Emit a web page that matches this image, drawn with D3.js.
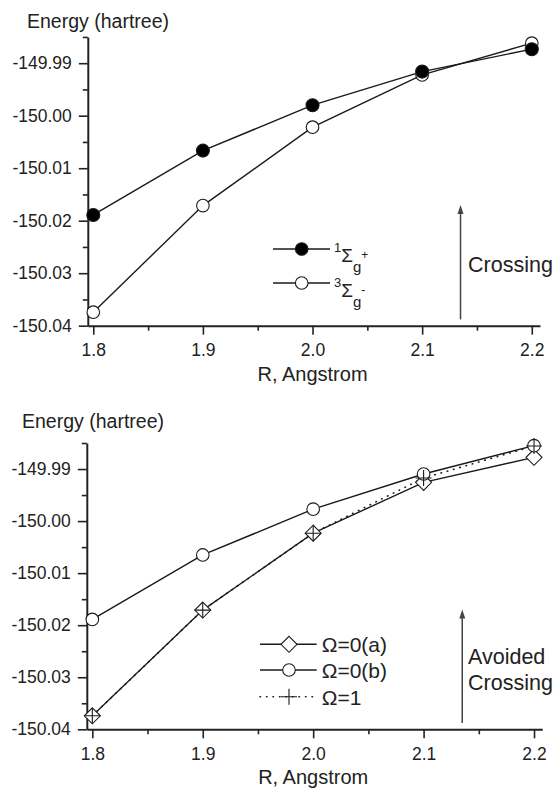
<!DOCTYPE html>
<html>
<head>
<meta charset="utf-8">
<script src="https://cdn.jsdelivr.net/npm/d3@7"></script>
<style>
  body { margin: 0; background: #fff; }
  svg { display: block; font-family: "Liberation Sans", Arial, sans-serif; }
</style>
</head>
<body>
<svg id="chart" width="557" height="790"></svg>
<script>
// data
var R = [1.8, 1.9, 2.0, 2.1, 2.2];
var singlet = [-150.0189, -150.00665, -149.9980, -149.9916, -149.98733];   // 1Σg+
var triplet = [-150.03743, -150.01712, -150.00219, -149.99223, -149.98619]; // 3Σg-
var omega0a = [-150.0374, -150.0171, -150.00233, -149.99256, -149.98775];
var omega0b = [-150.0189, -150.00651, -149.99771, -149.99096, -149.98551];
var omega1 = [-150.0374, -150.0171, -150.00233, -149.99173, -149.98557];

var xTicks = [1.8, 1.9, 2.0, 2.1, 2.2];
var xMinor = [1.85, 1.95, 2.05, 2.15];
var yTicks = [-150.04, -150.03, -150.02, -150.01, -150.00, -149.99];
var yMinor = [-150.035, -150.025, -150.015, -150.005, -149.995, -149.985];

var svg = d3.select("#chart");
var ink = "#1a1a1a";

function zip(vals) {
    return R.map(function (r, i) { return [r, vals[i]]; });
}

function panel(cfg) {
    var x = d3.scaleLinear().domain([1.795, 2.2075]).range([cfg.left, cfg.right]);
    var y = d3.scaleLinear().domain([-150.04, -149.985]).range([cfg.bottom, cfg.top]);
    var g = svg.append("g");

    // minor ticks first
    g.append("g").attr("transform", "translate(0," + cfg.bottom + ")")
        .call(d3.axisBottom(x).tickValues(xMinor).tickSize(5).tickFormat(""))
        .call(function (a) { a.select(".domain").remove(); });
    g.append("g").attr("transform", "translate(" + cfg.left + ",0)")
        .call(d3.axisLeft(y).tickValues(yMinor).tickSize(5).tickFormat(""))
        .call(function (a) { a.select(".domain").remove(); });

    g.append("g").attr("transform", "translate(0," + cfg.bottom + ")")
        .call(d3.axisBottom(x).tickValues(xTicks).tickSize(9).tickSizeOuter(0)
            .tickPadding(9).tickFormat(function (d) { return d.toFixed(1); }));
    g.append("g").attr("transform", "translate(" + cfg.left + ",0)")
        .call(d3.axisLeft(y).tickValues(yTicks).tickSize(9).tickSizeOuter(0)
            .tickPadding(7).tickFormat(function (d) { return d.toFixed(2); }));

    g.selectAll(".domain").attr("stroke", "#222").attr("stroke-width", 2);
    g.selectAll(".tick line").attr("stroke", "#222").attr("stroke-width", 1.6);
    g.selectAll(".tick text").attr("fill", "#222").style("font-size", "17.5px")
        .style("font-family", "'Liberation Sans', Arial, sans-serif");

    g.append("text").attr("x", cfg.yTitleX).attr("y", cfg.yTitleY)
        .attr("fill", "#222").style("font-size", "19.5px").text("Energy (hartree)");
    g.append("text").attr("x", x(2.0)).attr("y", cfg.bottom + 55)
        .attr("text-anchor", "middle")
        .attr("fill", "#222").style("font-size", "20px").text("R, Angstrom");

    // annotation arrow
    var ax = x(2.135);
    g.append("line").attr("x1", ax).attr("x2", ax)
        .attr("y1", y(-150.0388)).attr("y2", y(-150.017) + 6)
        .attr("stroke", "#444").attr("stroke-width", 1.5);
    g.append("path")
        .attr("d", "M" + ax + "," + y(-150.017) + " l-3,9 l6,0 z")
        .attr("fill", "#444");

    return { g: g, x: x, y: y };
}

var line = function (p) {
    return d3.line().x(function (d) { return p.x(d[0]); }).y(function (d) { return p.y(d[1]); });
};

function drawLine(p, vals, dash) {
    p.g.append("path").datum(zip(vals))
        .attr("d", line(p))
        .attr("fill", "none").attr("stroke", ink)
        .attr("stroke-width", dash ? 1.6 : 1.4)
        .attr("stroke-dasharray", dash || null)
        .attr("stroke-linecap", dash ? "round" : null);
}

function circles(sel, data, r, fill) {
    sel.selectAll(null).data(data).join("circle")
        .attr("cx", function (d) { return d[0]; })
        .attr("cy", function (d) { return d[1]; })
        .attr("r", r).attr("fill", fill)
        .attr("stroke", ink).attr("stroke-width", 1.1);
}
function diamonds(sel, data) {
    sel.selectAll(null).data(data).join("path")
        .attr("d", function (d) { return "M" + d[0] + "," + (d[1] - 8) + " l8,8 l-8,8 l-8,-8 z"; })
        .attr("fill", "#fff").attr("stroke", ink).attr("stroke-width", 1.1);
}
function pluses(sel, data) {
    sel.selectAll(null).data(data).join("path")
        .attr("d", function (d) {
            return "M" + (d[0] - 8) + "," + d[1] + " h16 M" + d[0] + "," + (d[1] - 8) + " v16";
        })
        .attr("fill", "none").attr("stroke", ink).attr("stroke-width", 1.1);
}
function pts(p, vals) {
    return zip(vals).map(function (d) { return [p.x(d[0]), p.y(d[1])]; });
}

// ---------- top panel ----------
var upper = panel({ left: 87.8, right: 540, bottom: 325.7, top: 36.95, yTitleX: 27, yTitleY: 28 });
drawLine(upper, triplet);
drawLine(upper, singlet);
circles(upper.g, pts(upper, triplet), 6.3, "#fff");
circles(upper.g, pts(upper, singlet), 6.5, "#000");

var lg = upper.g.append("g");
[[249, "#000"], [283, "#fff"]].forEach(function (row) {
    lg.append("line").attr("x1", 273).attr("x2", 330).attr("y1", row[0]).attr("y2", row[0])
        .attr("stroke", ink).attr("stroke-width", 1.4);
    circles(lg, [[301.7, row[0]]], 6.3, row[1]);
});
function sigmaLabel(yy, mult, sign) {
    var t = lg.append("text").attr("x", 334).attr("y", yy).attr("fill", "#222");
    t.append("tspan").attr("dy", -10).style("font-size", "13px").text(mult);
    t.append("tspan").attr("dy", 10).style("font-size", "19px").text("Σ");
    t.append("tspan").attr("dy", 10).style("font-size", "15px").text("g");
    t.append("tspan").attr("dy", -13).style("font-size", "12px").text(sign);
}
sigmaLabel(262, "1", "+");
sigmaLabel(297, "3", "-");

upper.g.append("text").attr("x", 468).attr("y", 272).attr("fill", "#222")
    .style("font-size", "21.5px").text("Crossing");

// ---------- bottom panel ----------
var lower = panel({ left: 86.8, right: 542.3, bottom: 729.3, top: 443, yTitleX: 22, yTitleY: 428 });
drawLine(lower, omega0b);
drawLine(lower, omega0a);
drawLine(lower, omega1, "0.5,6");
diamonds(lower.g, pts(lower, omega0a));
circles(lower.g, pts(lower, omega0b), 6.3, "#fff");
pluses(lower.g, pts(lower, omega1));

var lb = lower.g.append("g");
var rows = [[644.3, "Ω=0(a)"], [670, "Ω=0(b)"], [696.7, "Ω=1"]];
rows.forEach(function (row, i) {
    lb.append("line").attr("x1", 260).attr("x2", 316.7).attr("y1", row[0]).attr("y2", row[0])
        .attr("stroke", ink).attr("stroke-width", i === 2 ? 1.6 : 1.4)
        .attr("stroke-dasharray", i === 2 ? "0.5,6" : null)
        .attr("stroke-linecap", i === 2 ? "round" : null);
    lb.append("text").attr("x", 321.7).attr("y", row[0] + 8).attr("fill", "#222")
        .style("font-size", "21px").text(row[1]);
});
diamonds(lb, [[289, rows[0][0]]]);
circles(lb, [[289, rows[1][0]]], 6.3, "#fff");
pluses(lb, [[289, rows[2][0]]]);

lower.g.append("text").attr("x", 468).attr("y", 664).attr("fill", "#222")
    .style("font-size", "21.5px").text("Avoided");
lower.g.append("text").attr("x", 468).attr("y", 690).attr("fill", "#222")
    .style("font-size", "21.5px").text("Crossing");
</script>
</body>
</html>
